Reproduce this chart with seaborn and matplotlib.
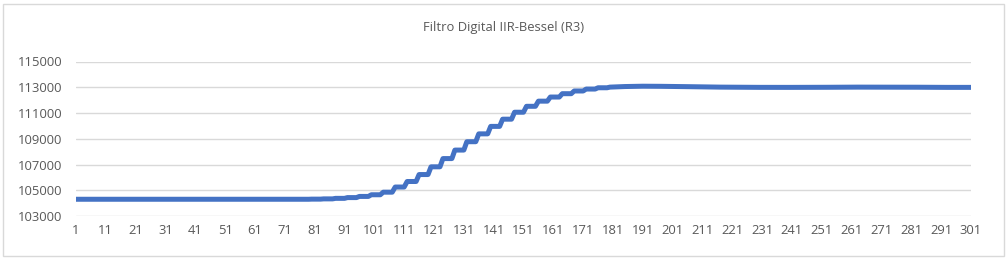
import matplotlib
matplotlib.use("Agg")
import matplotlib.pyplot as plt
from matplotlib.patches import Rectangle
import seaborn as sns
import pandas as pd

title = "Filtro Digital IIR-Bessel (R3)"

samples = list(range(1, 302))

values = [
    # 1-79: flat start
    104300, 104300, 104300, 104300, 104300, 104300, 104300, 104300, 104300, 104300,
    104300, 104300, 104300, 104300, 104300, 104300, 104300, 104300, 104300, 104300,
    104300, 104300, 104300, 104300, 104300, 104300, 104300, 104300, 104300, 104300,
    104300, 104300, 104300, 104300, 104300, 104300, 104300, 104300, 104300, 104300,
    104300, 104300, 104300, 104300, 104300, 104300, 104300, 104300, 104300, 104300,
    104300, 104300, 104300, 104300, 104300, 104300, 104300, 104300, 104300, 104300,
    104300, 104300, 104300, 104300, 104300, 104300, 104300, 104300, 104300, 104300,
    104300, 104300, 104300, 104300, 104300, 104300, 104300, 104300, 104300,
    # 80-179: staircase rise
    104310, 104310, 104310, 104310,
    104330, 104330, 104330, 104330,
    104370, 104370, 104370, 104370,
    104430, 104430, 104430, 104430,
    104520, 104520, 104520, 104520,
    104650, 104650, 104650, 104650,
    104850, 104850, 104850, 104850,
    105250, 105250, 105250, 105250,
    105680, 105680, 105680, 105680,
    106220, 106220, 106220, 106220,
    106820, 106820, 106820, 106820,
    107460, 107460, 107460, 107460,
    108120, 108120, 108120, 108120,
    108770, 108770, 108770, 108770,
    109380, 109380, 109380, 109380,
    109960, 109960, 109960, 109960,
    110520, 110520, 110520, 110520,
    111060, 111060, 111060, 111060,
    111520, 111520, 111520, 111520,
    111920, 111920, 111920, 111920,
    112240, 112240, 112240, 112240,
    112500, 112500, 112500, 112500,
    112710, 112710, 112710, 112710,
    112860, 112860, 112860, 112860,
    112960, 112960, 112960, 112960,
    # 180-301: settling
    113010, 113020, 113030, 113040, 113050, 113055, 113060, 113065, 113070, 113075,
    113078, 113080, 113080, 113080, 113078, 113076, 113074, 113072, 113070, 113068,
    113065, 113062, 113059, 113056, 113053, 113050, 113046, 113042, 113038, 113034,
    113030, 113027, 113024, 113021, 113018, 113015, 113012, 113010, 113008, 113006,
    113004, 113002, 113000, 112999, 112998, 112997, 112996, 112995, 112994, 112993,
    112992, 112991, 112990, 112990, 112990, 112990, 112990, 112990, 112990, 112990,
    112990, 112990, 112990, 112990, 112990, 112990, 112990, 112990, 112990, 112990,
    112992, 112994, 112996, 112998, 113000, 113002, 113004, 113006, 113008, 113010,
    113010, 113010, 113010, 113010, 113010, 113010, 113010, 113010, 113010, 113010,
    113010, 113010, 113010, 113010, 113010, 113010, 113010, 113010, 113010, 113010,
    113008, 113006, 113004, 113002, 113000, 112998, 112996, 112994, 112992, 112990,
    112990, 112990, 112990, 112990, 112990, 112990, 112990, 112990, 112990, 112990,
    112990, 112990,
]

x_ticks = list(range(1, 302, 10))
y_ticks = [103000, 105000, 107000, 109000, 111000, 113000, 115000]

df = pd.DataFrame({"sample": samples, "value": values})

sns.set_theme(style="white")
plt.rcParams["font.family"] = ["Open Sans", "DejaVu Sans"]

text_color = "#595959"
grid_color = "#D9D9D9"
line_color = "#4472C4"

fig = plt.figure(figsize=(10.08, 2.59), dpi=100)
fig.patch.set_facecolor("white")
ax = fig.add_axes([76 / 1008, 1 - 216 / 259, (971 - 76) / 1008, (216 - 61.5) / 259])

sns.lineplot(data=df, x="sample", y="value", ax=ax, color=line_color,
             linewidth=3.6, solid_capstyle="round", solid_joinstyle="round")

ax.set_xlim(1, 301)
ax.set_ylim(103000, 115000)
ax.set_xticks(x_ticks)
ax.set_xticklabels([str(t) for t in x_ticks])
ax.set_yticks(y_ticks)
ax.set_yticklabels([str(t) for t in y_ticks])
ax.set_xlabel("")
ax.set_ylabel("")

for s in ax.spines.values():
    s.set_visible(False)
ax.yaxis.grid(True, color=grid_color, linewidth=1.0)
ax.xaxis.grid(False)
ax.set_axisbelow(True)
ax.tick_params(axis="both", length=0, labelsize=9.4, colors=text_color)
ax.tick_params(axis="y", pad=10)
ax.tick_params(axis="x", pad=6)

fig.text(504 / 1008, 1 - 28 / 259, title, ha="center", va="center",
         fontsize=9.4, color=text_color)

fig.patches.append(Rectangle((3 / 1008, 3 / 259), 1001 / 1008, 252 / 259,
                             transform=fig.transFigure, fill=False,
                             edgecolor=grid_color, linewidth=1.0))

fig.savefig("out.png", dpi=100, facecolor="white")
